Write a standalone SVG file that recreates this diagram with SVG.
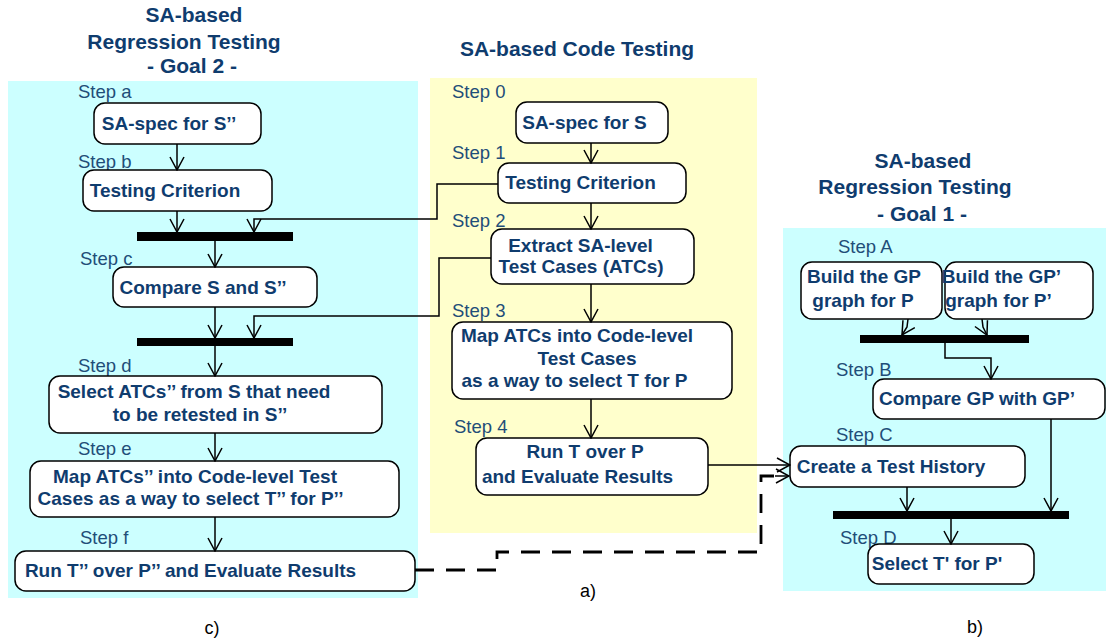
<svg xmlns="http://www.w3.org/2000/svg" width="1109" height="643" viewBox="0 0 1109 643">
<defs>
<marker id="arr" viewBox="0 0 15 16" refX="14" refY="8" markerWidth="15" markerHeight="16" markerUnits="userSpaceOnUse" orient="auto">
<path d="M1,1 L14,8 L1,15" fill="none" stroke="#000" stroke-width="1.5"/>
</marker>
<style>
.title{font-family:"Liberation Sans",Arial,sans-serif;font-weight:bold;font-size:21px;fill:#0f3c6e;text-anchor:middle}
.step{font-family:"Liberation Sans",Arial,sans-serif;font-size:18.5px;fill:#1f4e79}
.nt{font-family:"Liberation Sans",Arial,sans-serif;font-weight:bold;font-size:19px;fill:#0f3c6e;text-anchor:middle}
.lbl{font-family:"Liberation Sans",Arial,sans-serif;font-size:18px;fill:#000;text-anchor:middle}
.box{fill:#fff;stroke:#000;stroke-width:1.5}
.bar{fill:#000}
.ln{fill:none;stroke:#000;stroke-width:1.5}
.ar{fill:none;stroke:#000;stroke-width:1.5;marker-end:url(#arr)}
.dash{fill:none;stroke:#000;stroke-width:2.8;stroke-dasharray:19 12}
</style>
</defs>

<!-- panel backgrounds -->
<rect x="8" y="81" width="410" height="517" fill="#ccffff"/>
<rect x="430" y="78" width="327" height="455" fill="#ffffcc"/>
<rect x="783" y="228" width="323" height="363" fill="#ccffff"/>

<!-- titles -->
<text class="title" x="194" y="22">SA-based</text>
<text class="title" x="184" y="49">Regression Testing</text>
<text class="title" x="192" y="73">- Goal 2 -</text>
<text class="title" x="577" y="56">SA-based Code Testing</text>
<text class="title" x="923" y="168">SA-based</text>
<text class="title" x="915" y="194">Regression Testing</text>
<text class="title" x="922" y="221">- Goal 1 -</text>

<!-- step labels -->
<g id="steps">
<text class="step" x="78" y="98">Step a</text>
<text class="step" x="78" y="168">Step b</text>
<text class="step" x="80" y="265">Step c</text>
<text class="step" x="78" y="372">Step d</text>
<text class="step" x="78" y="455">Step e</text>
<text class="step" x="80" y="544">Step f</text>
<text class="step" x="452" y="98">Step 0</text>
<text class="step" x="452" y="159">Step 1</text>
<text class="step" x="452" y="227">Step 2</text>
<text class="step" x="452" y="317">Step 3</text>
<text class="step" x="454" y="433">Step 4</text>
<text class="step" x="838" y="253">Step A</text>
<text class="step" x="836" y="376">Step B</text>
<text class="step" x="836" y="441">Step C</text>
<text class="step" x="840" y="544">Step D</text>
</g>

<!-- sync bars -->
<g id="bars">
<rect class="bar" x="137" y="232" width="156" height="9"/>
<rect class="bar" x="137" y="338" width="156" height="8"/>
<rect class="bar" x="860" y="335" width="169" height="8"/>
<rect class="bar" x="833" y="511" width="236" height="8"/>
</g>

<!-- nodes: left panel -->
<g id="node-a"><rect class="box" x="94" y="103" width="167" height="41" rx="11"/><text class="nt" x="169" y="130">SA-spec for S’’</text></g>
<g id="node-b"><rect class="box" x="83" y="170" width="189" height="41" rx="11"/><text class="nt" x="165" y="197">Testing Criterion</text></g>
<g id="node-c"><rect class="box" x="113" y="267" width="204" height="40" rx="11"/><text class="nt" x="203" y="294">Compare S and S’’</text></g>
<g id="node-d"><rect class="box" x="49" y="376" width="333" height="57" rx="11"/><text class="nt" x="194" y="398">Select ATCs’’ from S that need</text><text class="nt" x="200" y="421">to be retested in S’’</text></g>
<g id="node-e"><rect class="box" x="30" y="461" width="369" height="56" rx="11"/><text class="nt" x="195" y="483">Map ATCs’’ into Code-level Test</text><text class="nt" x="190.5" y="505">Cases as a way to select T’’ for P’’</text></g>
<g id="node-f"><rect class="box" x="15" y="551" width="400" height="40" rx="11"/><text class="nt" x="190.5" y="577">Run T’’ over P’’ and Evaluate Results</text></g>

<!-- nodes: middle panel -->
<g id="node-0"><rect class="box" x="516" y="102" width="152" height="41" rx="11"/><text class="nt" x="584.5" y="129">SA-spec for S</text></g>
<g id="node-1"><rect class="box" x="498" y="163" width="188" height="40" rx="11"/><text class="nt" x="580.5" y="189">Testing Criterion</text></g>
<g id="node-2"><rect class="box" x="491" y="229" width="203" height="55" rx="11"/><text class="nt" x="580.5" y="252">Extract SA-level</text><text class="nt" x="581" y="273">Test Cases (ATCs)</text></g>
<g id="node-3"><rect class="box" x="452" y="322" width="280" height="77" rx="11"/><text class="nt" x="577" y="342">Map ATCs into Code-level</text><text class="nt" x="587" y="365">Test Cases</text><text class="nt" x="574.5" y="387">as a way to select T for P</text></g>
<g id="node-4"><rect class="box" x="476" y="438" width="232" height="57" rx="11"/><text class="nt" x="585" y="458">Run T over P</text><text class="nt" x="577.5" y="483">and Evaluate Results</text></g>

<!-- nodes: right panel -->
<g id="node-A1"><rect class="box" x="801" y="262" width="141" height="57" rx="11"/><text class="nt" x="864" y="283">Build the GP</text><text class="nt" x="863" y="307">graph for P</text></g>
<g id="node-A2"><rect class="box" x="945" y="262" width="148" height="57" rx="11"/><text class="nt" x="1001.5" y="283">Build the GP’</text><text class="nt" x="998.5" y="307">graph for P’</text></g>
<g id="node-B"><rect class="box" x="873" y="379" width="232" height="40" rx="11"/><text class="nt" x="977" y="405">Compare GP with GP’</text></g>
<g id="node-C"><rect class="box" x="790" y="446" width="235" height="41" rx="11"/><text class="nt" x="891" y="473">Create a Test History</text></g>
<g id="node-D"><rect class="box" x="868" y="544" width="166" height="40" rx="11"/><text class="nt" x="937" y="570">Select T' for P'</text></g>

<!-- connectors -->
<g id="connectors">
<!-- left panel -->
<path class="ar" d="M177,144 V170"/>
<path class="ar" d="M177,211 V232"/>
<path class="ar" d="M215,241 V267"/>
<path class="ar" d="M215,307 V338"/>
<path class="ar" d="M215,346 V376"/>
<path class="ar" d="M215,433 V461"/>
<path class="ar" d="M215,517 V551"/>
<!-- middle panel -->
<path class="ar" d="M591,143 V163"/>
<path class="ar" d="M591,203 V229"/>
<path class="ar" d="M591,284 V322"/>
<path class="ar" d="M591,399 V438"/>
<!-- middle to left -->
<path class="ar" d="M498,184 H437 V219 H254 V232"/>
<path class="ar" d="M491,258 H439 V316 H254 V338"/>
<!-- middle to right -->
<path class="ar" d="M708,465 H790"/>
<path class="dash" d="M415,570 H497 V552 H761 V476 H777"/>
<path class="ar" d="M775,476 H789"/>
<!-- right panel -->
<path class="ar" d="M908,319 L907,327 L902,335"/>
<path class="ar" d="M982,319 L983,327 L987,335"/>
<path class="ar" d="M945,343 V358 H991 V379"/>
<path class="ar" d="M1051,419 V511"/>
<path class="ar" d="M907,487 V511"/>
<path class="ar" d="M951,519 V544"/>
</g>

<!-- panel labels -->
<text class="lbl" x="212" y="634">c)</text>
<text class="lbl" x="588" y="597">a)</text>
<text class="lbl" x="975" y="633">b)</text>
</svg>
